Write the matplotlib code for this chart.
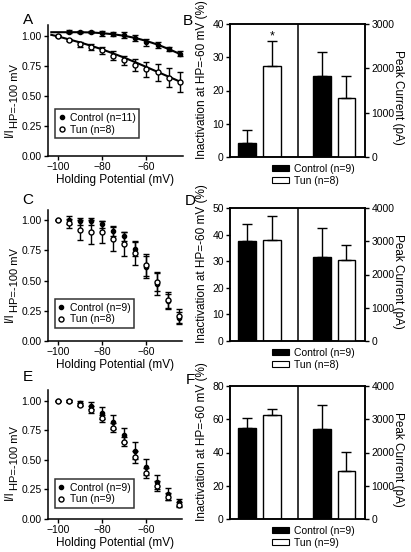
import numpy as np
import matplotlib
matplotlib.use("Agg")
import matplotlib.pyplot as plt
from matplotlib.patches import Patch
from matplotlib.lines import Line2D
from matplotlib.ticker import FormatStrFormatter

plt.rcParams['font.family'] = ['Liberation Sans', 'DejaVu Sans']
plt.rcParams['axes.linewidth'] = 1.1

# holding potentials (mV)
hp = [-100, -95, -90, -85, -80, -75, -70, -65, -60, -55, -50, -45]

# panel A
A_ctrl = [1.00, 1.035, 1.03, 1.03, 1.02, 1.015, 1.005, 0.98, 0.945, 0.925, 0.89, 0.85]
A_ctrl_err = [0.005, 0.01, 0.01, 0.01, 0.02, 0.02, 0.025, 0.025, 0.03, 0.025, 0.02, 0.02]
A_tun = [0.995, 0.965, 0.93, 0.905, 0.88, 0.835, 0.795, 0.76, 0.72, 0.695, 0.65, 0.615]
A_tun_err = [0.005, 0.01, 0.02, 0.025, 0.03, 0.035, 0.04, 0.05, 0.06, 0.07, 0.08, 0.08]
fit_hp = [-103, -100, -95, -90, -85, -80, -75, -70, -65, -60, -55, -50, -45, -43]
A_ctrl_fit = [1.03, 1.03, 1.03, 1.03, 1.028, 1.022, 1.013, 1.0, 0.982, 0.957, 0.927, 0.89, 0.85, 0.835]
A_tun_fit = [1.008, 0.995, 0.97, 0.945, 0.917, 0.887, 0.853, 0.818, 0.78, 0.74, 0.70, 0.66, 0.62, 0.605]

# panel C
C_ctrl = [1.00, 1.00, 0.99, 0.99, 0.965, 0.91, 0.865, 0.76, 0.61, 0.47, 0.33, 0.19]
C_ctrl_err = [0, 0.03, 0.03, 0.03, 0.03, 0.04, 0.04, 0.06, 0.09, 0.09, 0.06, 0.05]
C_tun = [1.00, 0.973, 0.917, 0.90, 0.90, 0.843, 0.805, 0.725, 0.628, 0.49, 0.335, 0.205]
C_tun_err = [0, 0.035, 0.085, 0.10, 0.09, 0.10, 0.10, 0.10, 0.09, 0.08, 0.07, 0.06]

# panel E
E_ctrl = [1.00, 1.00, 0.985, 0.96, 0.895, 0.82, 0.71, 0.58, 0.44, 0.31, 0.21, 0.14]
E_ctrl_err = [0, 0.005, 0.015, 0.03, 0.05, 0.06, 0.06, 0.07, 0.07, 0.06, 0.05, 0.03]
E_tun = [1.00, 1.00, 0.97, 0.925, 0.855, 0.775, 0.655, 0.525, 0.39, 0.28, 0.19, 0.12]
E_tun_err = [0, 0.005, 0.015, 0.03, 0.03, 0.035, 0.04, 0.05, 0.04, 0.04, 0.03, 0.02]

# bar panels: [control, tun]
B_inact, B_inact_err = [4.2, 27.3], [3.9, 7.7]
B_peak, B_peak_err = [1820, 1335], [550, 495]
D_inact, D_inact_err = [37.7, 37.8], [6.4, 9.1]
D_peak, D_peak_err = [2520, 2425], [890, 465]
F_inact, F_inact_err = [54.8, 62.7], [6.2, 3.5]
F_peak, F_peak_err = [2715, 1435], [700, 575]

W, H = 411, 552
fig = plt.figure(figsize=(W / 100, H / 100), dpi=100)


def rect(l, t, r, b):
    return [l / W, 1 - b / H, (r - l) / W, (b - t) / H]


FS = 7.5
LFS = 8.5


def curve_panel(box, ctrl, ctrl_err, tun, tun_err, labels, ytop, leg_y, fits=None):
    ax = fig.add_axes(rect(*box))
    if fits is not None:
        ax.plot(fit_hp, fits[0], color='black', lw=1.5, zorder=2)
        ax.plot(fit_hp, fits[1], color='black', lw=1.5, zorder=2)
    ax.errorbar(hp, ctrl, yerr=ctrl_err, fmt='o', color='black', ms=3, mec='black',
                mfc='black', elinewidth=1, capsize=2.2, capthick=1, zorder=3)
    ax.errorbar(hp, tun, yerr=tun_err, fmt='o', color='black', ms=3.6, mec='black',
                mfc='white', mew=1, elinewidth=1, capsize=2.2, capthick=1, zorder=4)
    ax.set_xlim(-104.5, -43.5)
    ax.set_ylim(0, ytop)
    ax.set_xticks([-100, -80, -60])
    ax.set_yticks([0, 0.25, 0.5, 0.75, 1.0])
    ax.yaxis.set_major_formatter(FormatStrFormatter('%.2f'))
    for s in ['top', 'right']:
        ax.spines[s].set_visible(False)
    ax.tick_params(labelsize=FS, length=3, width=1, pad=1.5)
    ax.set_xlabel('Holding Potential (mV)', fontsize=LFS, labelpad=1)
    # y label: I/I with a large subscript
    bottom = box[3]
    fig.text(10 / W, 1 - (bottom - 19) / H, 'I/I', rotation=90, fontsize=LFS,
             ha='center', va='bottom')
    fig.text(14.5 / W, 1 - (bottom - 28.5) / H, 'HP=-100 mV', rotation=90, fontsize=8,
             ha='center', va='bottom')
    handles = [Line2D([], [], marker='o', ls='none', color='black', ms=3),
               Line2D([], [], marker='o', ls='none', mec='black', mfc='white', ms=3.6, mew=1)]
    leg = ax.legend(handles, labels, loc='lower left', bbox_to_anchor=(0.05, leg_y),
                    borderaxespad=0, fontsize=FS, frameon=True, fancybox=False,
                    handlelength=0.6, handletextpad=0.5, borderpad=0.35, labelspacing=0.15)
    leg.get_frame().set_edgecolor('black')
    leg.get_frame().set_linewidth(1.1)
    return ax


def bar_panel(box, inact, inact_err, peak, peak_err, ymax, ystep, pmax, labels, star=False):
    ax = fig.add_axes(rect(*box))
    ax2 = ax.twinx()
    xl = [0.5, 1.25]
    xr = [2.72, 3.45]
    colors = ['black', 'white']
    ax.bar(xl, inact, width=0.52, color=colors, edgecolor='black', lw=1, zorder=2)
    ax.errorbar(xl, inact, yerr=[[0, 0], inact_err], fmt='none', ecolor='black',
                elinewidth=1, capsize=3.5, capthick=1, zorder=3)
    ax2.bar(xr, peak, width=0.52, color=colors, edgecolor='black', lw=1, zorder=2)
    ax2.errorbar(xr, peak, yerr=[[0, 0], peak_err], fmt='none', ecolor='black',
                 elinewidth=1, capsize=3.5, capthick=1, zorder=3)
    ax.axvline(2, color='black', lw=1.1)
    ax.set_xlim(0, 4)
    ax.set_ylim(0, ymax)
    ax2.set_ylim(0, pmax)
    ax.set_yticks(np.arange(0, ymax + 1, ystep))
    ax2.set_yticks(np.arange(0, pmax + 1, 1000))
    ax.set_xticks([])
    ax.tick_params(labelsize=FS, length=3, width=1, pad=1.5)
    ax2.tick_params(labelsize=FS, length=3, width=1, pad=1.5)
    ax.set_ylabel('Inactivation at HP=-60 mV (%)', fontsize=LFS)
    ax.yaxis.set_label_coords(-0.163, 0.58)
    ax2.set_ylabel('Peak Current (pA)', fontsize=LFS, rotation=-90, va='center')
    ax2.yaxis.set_label_coords(1.245, 0.45)
    if star:
        ax.text(xl[1], inact[1] + inact_err[1] - 0.5, '*', ha='center', va='bottom', fontsize=9)
    handles = [Patch(facecolor='black', edgecolor='black', lw=0.8),
               Patch(facecolor='white', edgecolor='black', lw=0.8)]
    ax.legend(handles, labels, loc='upper left', bbox_to_anchor=(0.31, -0.05),
              borderaxespad=0, fontsize=FS, frameon=False, handlelength=1.6,
              handleheight=0.55, handletextpad=0.5, labelspacing=0.2, borderpad=0)
    return ax


curve_panel((48, 25, 183, 156), A_ctrl, A_ctrl_err, A_tun, A_tun_err,
            ['Control (n=11)', 'Tun (n=8)'], 1.09, 0.135, fits=(A_ctrl_fit, A_tun_fit))
curve_panel((48, 210, 182, 341), C_ctrl, C_ctrl_err, C_tun, C_tun_err,
            ['Control (n=9)', 'Tun (n=8)'], 1.083, 0.10)
curve_panel((48, 390, 182, 519), E_ctrl, E_ctrl_err, E_tun, E_tun_err,
            ['Control (n=9)', 'Tun (n=9)'], 1.093, 0.085)

bar_panel((230, 24, 365, 157), B_inact, B_inact_err, B_peak, B_peak_err, 40, 10, 3000,
          ['Control (n=9)', 'Tun (n=8)'], star=True)
bar_panel((230, 208, 365, 341), D_inact, D_inact_err, D_peak, D_peak_err, 50, 10, 4000,
          ['Control (n=9)', 'Tun (n=8)'])
bar_panel((230, 386, 365, 519), F_inact, F_inact_err, F_peak, F_peak_err, 80, 20, 4000,
          ['Control (n=9)', 'Tun (n=9)'])

letters = [('A', 28, 20), ('B', 188, 21), ('C', 28, 200), ('D', 190, 201),
           ('E', 28, 377), ('F', 190, 380)]
for s, x, y in letters:
    fig.text(x / W, 1 - y / H, s, fontsize=11, ha='center', va='center')

fig.savefig('out.png', dpi=100)
